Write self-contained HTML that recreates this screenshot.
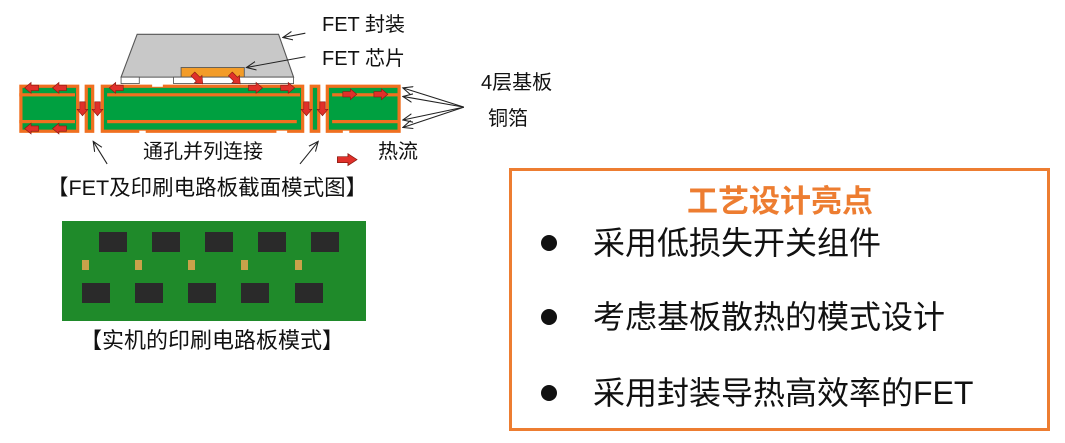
<!DOCTYPE html>
<html><head><meta charset="utf-8"><style>
body{margin:0;width:1065px;height:443px;background:#fff;overflow:hidden;font-family:"Liberation Sans","Noto Sans CJK SC",sans-serif}
</style></head><body>
<svg width="1065" height="443" xmlns="http://www.w3.org/2000/svg" style="position:absolute;left:0;top:0">
<defs>
<marker id="ah" markerWidth="10" markerHeight="10" refX="9" refY="5" orient="auto" markerUnits="userSpaceOnUse"><path d="M0,1 L9,5 L0,9" fill="none" stroke="#222" stroke-width="1"/></marker>
<g id="ra"><path d="M0,-2.5 H7 V-5 L13,0 L7,5 V2.5 H0 Z" fill="#e0302a" stroke="#8a1a10" stroke-width="0.6"/></g>
</defs>
<g transform="scale(1.0714)">
<polygon points="128,32 260,32 274,72 113,72" fill="#c8c8c8" stroke="#555" stroke-width="1"/>
<rect x="169" y="63" width="59" height="9" fill="#f39c28" stroke="#555" stroke-width="0.8"/>
<rect x="113" y="72" width="17" height="6" fill="#fff" stroke="#555" stroke-width="0.8"/>
<rect x="162" y="72" width="112" height="6" fill="#fff" stroke="#555" stroke-width="0.8"/>
<g fill="#00a040" stroke="#f07020" stroke-width="3">
<rect x="19.5" y="80.5" width="53" height="42"/>
<rect x="80.5" y="80.5" width="6" height="42"/>
<rect x="95.5" y="80.5" width="187" height="42"/>
<rect x="290.5" y="80.5" width="7" height="42"/>
<rect x="305.5" y="80.5" width="67" height="42"/>
</g>
<g fill="#f07020">
<rect x="18" y="87" width="52" height="3"/><rect x="18" y="112" width="52" height="3"/>
<rect x="100" y="87" width="180" height="3"/><rect x="100" y="112" width="177" height="3"/>
<rect x="310" y="87" width="62" height="3"/><rect x="310" y="112" width="62" height="3"/>
</g>
<g fill="#fff"><rect x="142" y="78" width="10" height="3"/><rect x="130" y="122" width="6" height="3"/><rect x="258" y="122" width="10" height="3"/><rect x="320" y="122" width="6" height="3"/></g>
<use href="#ra" transform="translate(36,82) rotate(180)"/>
<use href="#ra" transform="translate(62,82) rotate(180)"/>
<use href="#ra" transform="translate(36,120) rotate(180)"/>
<use href="#ra" transform="translate(62,120) rotate(180)"/>
<use href="#ra" transform="translate(115,82) rotate(180)"/>
<use href="#ra" transform="translate(232,82)"/>
<use href="#ra" transform="translate(262,82)"/>
<use href="#ra" transform="translate(320,88)"/>
<use href="#ra" transform="translate(349,88)"/>
<use href="#ra" transform="translate(77,95) rotate(90)"/>
<use href="#ra" transform="translate(91,95) rotate(90)"/>
<use href="#ra" transform="translate(286,95) rotate(90)"/>
<use href="#ra" transform="translate(301,95) rotate(90)"/>
<use href="#ra" transform="translate(180,69) rotate(45)"/>
<use href="#ra" transform="translate(215,69) rotate(45)"/>
<use href="#ra" transform="translate(315,149) scale(1.4,1.1)"/>
<g stroke="#222" stroke-width="1" fill="none" marker-end="url(#ah)">
<line x1="285" y1="31" x2="264" y2="35"/>
<line x1="285" y1="53" x2="230" y2="63"/>
<line x1="433" y1="100" x2="376" y2="82"/>
<line x1="433" y1="100" x2="376" y2="90"/>
<line x1="433" y1="100" x2="376" y2="112"/>
<line x1="433" y1="100" x2="376" y2="119"/>
<line x1="100" y1="153" x2="87" y2="132"/>
<line x1="280" y1="153" x2="297" y2="132"/>
</g>
</g>
<g font-size="20" fill="#111">
<text x="322" y="31">FET 封装</text>
<text x="322" y="65">FET 芯片</text>
<text x="481" y="89">4层基板</text>
<text x="488" y="125">铜箔</text>
<text x="143" y="158">通孔并列连接</text>
<text x="378" y="158">热流</text>
</g>
<text x="47" y="195" font-size="21.5" fill="#111">【FET及印刷电路板截面模式图】</text>
<rect x="62" y="221" width="304" height="100" fill="#1f8a2a"/>
<g fill="#2a2a2a">
<rect x="99" y="232" width="28" height="20"/><rect x="152" y="232" width="28" height="20"/><rect x="205" y="232" width="28" height="20"/><rect x="258" y="232" width="28" height="20"/><rect x="311" y="232" width="28" height="20"/>
<rect x="82" y="283" width="28" height="20"/><rect x="135" y="283" width="28" height="20"/><rect x="188" y="283" width="28" height="20"/><rect x="241" y="283" width="28" height="20"/><rect x="295" y="283" width="28" height="20"/>
</g>
<g fill="#c9a24a">
<rect x="82" y="260" width="7" height="10"/><rect x="135" y="260" width="7" height="10"/><rect x="188" y="260" width="7" height="10"/><rect x="241" y="260" width="7" height="10"/><rect x="295" y="260" width="7" height="10"/>
</g>
<text x="80" y="348" font-size="22" fill="#111">【实机的印刷电路板模式】</text>
<rect x="510.5" y="169.5" width="538" height="260" fill="#fff" stroke="#ed7d31" stroke-width="3"/>
<text x="780" y="212" text-anchor="middle" font-size="31" font-weight="bold" fill="#ed7d31">工艺设计亮点</text>
<g fill="#111"><circle cx="549" cy="243" r="8"/><circle cx="549" cy="317" r="8"/><circle cx="549" cy="393" r="8"/></g>
<g font-size="32" fill="#111">
<text x="593" y="254">采用低损失开关组件</text>
<text x="593" y="328">考虑基板散热的模式设计</text>
<text x="593" y="404">采用封装导热高效率的FET</text>
</g>
</svg>
</body></html>
